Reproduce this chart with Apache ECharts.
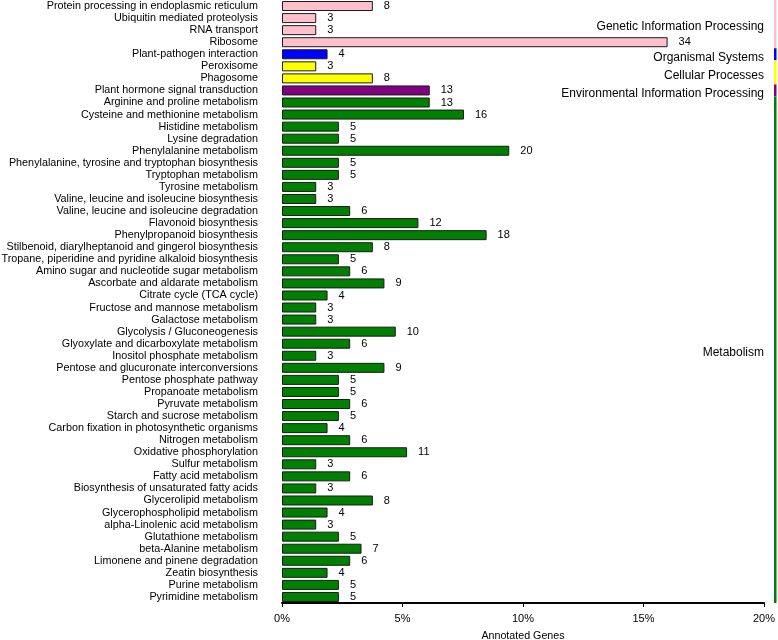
<!DOCTYPE html>
<html>
<head>
<meta charset="utf-8">
<script src="https://cdn.jsdelivr.net/npm/echarts@6/dist/echarts.min.js"></script>
<style>html,body{margin:0;padding:0;background:#fff;}#c{width:778px;height:640px;}</style>
</head>
<body>
<div id="c"></div>
<script>
const categories = [
  "Protein processing in endoplasmic reticulum","Ubiquitin mediated proteolysis","RNA transport","Ribosome",
  "Plant-pathogen interaction","Peroxisome","Phagosome","Plant hormone signal transduction",
  "Arginine and proline metabolism","Cysteine and methionine metabolism","Histidine metabolism","Lysine degradation",
  "Phenylalanine metabolism","Phenylalanine, tyrosine and tryptophan biosynthesis","Tryptophan metabolism","Tyrosine metabolism",
  "Valine, leucine and isoleucine biosynthesis","Valine, leucine and isoleucine degradation","Flavonoid biosynthesis","Phenylpropanoid biosynthesis",
  "Stilbenoid, diarylheptanoid and gingerol biosynthesis","Tropane, piperidine and pyridine alkaloid biosynthesis","Amino sugar and nucleotide sugar metabolism","Ascorbate and aldarate metabolism",
  "Citrate cycle (TCA cycle)","Fructose and mannose metabolism","Galactose metabolism","Glycolysis / Gluconeogenesis",
  "Glyoxylate and dicarboxylate metabolism","Inositol phosphate metabolism","Pentose and glucuronate interconversions","Pentose phosphate pathway",
  "Propanoate metabolism","Pyruvate metabolism","Starch and sucrose metabolism","Carbon fixation in photosynthetic organisms",
  "Nitrogen metabolism","Oxidative phosphorylation","Sulfur metabolism","Fatty acid metabolism",
  "Biosynthesis of unsaturated fatty acids","Glycerolipid metabolism","Glycerophospholipid metabolism","alpha-Linolenic acid metabolism",
  "Glutathione metabolism","beta-Alanine metabolism","Limonene and pinene degradation","Zeatin biosynthesis",
  "Purine metabolism","Pyrimidine metabolism"
];
const geneCounts = [8,3,3,34,4,3,8,13,13,16,5,5,20,5,5,3,3,6,12,18,8,5,6,9,4,3,3,10,6,3,9,5,5,6,5,4,6,11,3,6,3,8,4,3,5,7,6,4,5,5];
const percents = [3.77,1.42,1.42,16.0,1.89,1.42,3.77,6.13,6.13,7.55,2.36,2.36,9.43,2.36,2.36,1.42,1.42,2.83,5.66,8.49,
  3.77,2.36,2.83,4.25,1.89,1.42,1.42,4.72,2.83,1.42,4.25,2.36,2.36,2.83,2.36,1.89,2.83,5.19,1.42,2.83,
  1.42,3.77,1.89,1.42,2.36,3.30,2.83,1.89,2.36,2.36];
const groupNames = ["Genetic Information Processing","Organismal Systems","Cellular Processes","Environmental Information Processing","Metabolism"];
const groupStart = [0,4,5,7,8];
const groupEnd = [3,4,6,7,49];
const groupColors = ["#FFC0CB","#0000FF","#FFFF00","#800080","#008000"];
const xTicks = [0,5,10,15,20];

const FONT = "'Liberation Sans', Arial, sans-serif";
function groupOf(i){ for (let g=0; g<groupStart.length; g++) if (i>=groupStart[g] && i<=groupEnd[g]) return g; return 0; }

const chart = echarts.init(document.getElementById('c'));
chart.setOption({
  animation: false,
  grid: { left: 282, right: 14, top: 0, bottom: 37, containLabel: false, outerBoundsMode: 'none' },
  xAxis: {
    type: 'value', min: xTicks[0], max: xTicks[xTicks.length - 1], interval: xTicks[1] - xTicks[0],
    name: 'Annotated Genes', nameLocation: 'middle', nameGap: 28,
    nameTextStyle: { fontFamily: FONT, fontSize: 10.7, color: '#000' },
    axisLine: { show: true, lineStyle: { color: '#000', width: 2 } },
    axisTick: { show: true, length: 4, lineStyle: { color: '#000', width: 1 } },
    axisLabel: { fontFamily: FONT, fontSize: 11, color: '#000', margin: 10, formatter: v => v + '%' },
    splitLine: { show: false }
  },
  yAxis: {
    type: 'category', data: categories, inverse: true,
    axisLine: { show: false }, axisTick: { show: false },
    axisLabel: { fontFamily: FONT, fontSize: 10.8, color: '#000', margin: 24, interval: 0 }
  },
  series: [
    {
      type: 'bar', data: percents, barWidth: 10,
      itemStyle: {
        color: p => groupColors[groupOf(p.dataIndex)],
        borderColor: '#1a1a1a', borderWidth: 1
      },
      label: {
        show: true, position: 'right', distance: 11,
        fontFamily: FONT, fontSize: 11, color: '#000',
        formatter: p => geneCounts[p.dataIndex]
      }
    },
    {
      type: 'custom', clip: false, silent: true,
      data: groupNames.map((n, g) => [0, groupStart[g], groupEnd[g], g]),
      encode: { x: 0, y: 1 },
      renderItem: function (params, api) {
        const g = api.value(3);
        const band = api.size([0, 1])[1];
        const y0 = api.coord([0, api.value(1)])[1] - band / 2;
        const y1 = api.coord([0, api.value(2)])[1] + band / 2;
        const cs = params.coordSys;
        const right = cs.x + cs.width;
        return {
          type: 'group',
          children: [
            { type: 'rect', shape: { x: right + 10, y: y0, width: 2.5, height: y1 - y0 }, style: { fill: groupColors[g] } },
            { type: 'text', style: { text: groupNames[g], x: right, y: (y0 + y1) / 2 + 3, align: 'right', verticalAlign: 'middle',
              fill: '#000', font: '12px ' + FONT } }
          ]
        };
      }
    }
  ]
});
</script>
</body>
</html>
